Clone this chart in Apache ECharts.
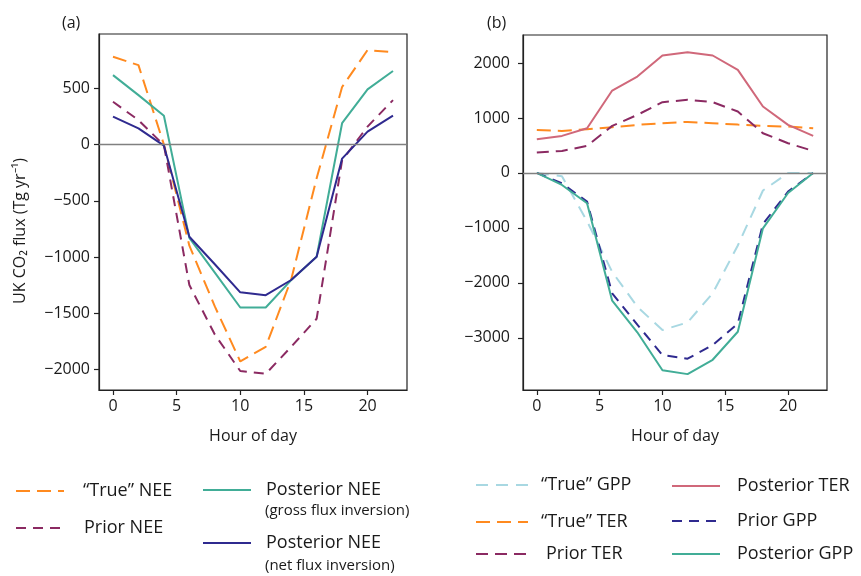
<!DOCTYPE html>
<html>
<head>
<meta charset="utf-8">
<script src="https://cdn.jsdelivr.net/npm/echarts@6/dist/echarts.min.js"></script>
<style>
html,body{margin:0;padding:0;background:#fff;}
#c{width:861px;height:576px;}
</style>
</head>
<body>
<div id="c"></div>
<script>
// ---- data ----
const hours = [0, 2, 4, 6, 8, 10, 12, 14, 16, 18, 20, 22];
const xTicks = [0, 5, 10, 15, 20];
const yTicksA = [-2000, -1500, -1000, -500, 0, 500];
const yTicksB = [-3000, -2000, -1000, 0, 1000, 2000];

// panel (a) NEE
const trueNEE   = [781, 707, 0, -900, -1440, -1930, -1800, -1200, -300, 512, 841, 822];
const priorNEE  = [381, 218, -5, -1250, -1690, -2015, -2040, -1800, -1550, -140, 160, 396];
const postNEEg  = [618, 440, 256, -830, -1140, -1450, -1450, -1206, -998, 190, 491, 655];
const postNEEn  = [248, 144, -10, -820, -1065, -1315, -1340, -1205, -998, -125, 115, 257];

// panel (b) GPP / TER
const trueGPP   = [0, -60, -880, -1800, -2435, -2860, -2720, -2190, -1320, -320, 0, 0];
const trueTER   = [783, 765, 795, 832, 874, 905, 929, 905, 880, 856, 844, 814];
const priorTER  = [370, 401, 492, 856, 1056, 1288, 1330, 1288, 1117, 723, 541, 401];
const postTER   = [613, 674, 814, 1499, 1754, 2137, 2198, 2137, 1876, 1208, 874, 674];
const priorGPP  = [0, -190, -522, -2190, -2760, -3315, -3380, -3133, -2740, -930, -340, 0];
const postGPP   = [0, -219, -552, -2325, -2900, -3590, -3661, -3400, -2890, -1008, -365, 0];

// ---- styling ----
const FONT = 'Open Sans';
const C = {
  orange: '#ff8a1f',
  maroon: '#8b2a62',
  teal: '#41ad97',
  navy: '#2f2a8f',
  pink: '#d0687a',
  lightblue: '#a8d8e2'
};
const pair = (ys) => hours.map((h, i) => [h, ys[i]]);
const minus = (v) => String(v).replace('-', '\u2212');

function line(name, ys, color, dash, gi, extra) {
  return Object.assign({
    type: 'line', name: name, data: pair(ys),
    xAxisIndex: gi, yAxisIndex: gi,
    symbol: 'none', showSymbol: false, smooth: false,
    lineStyle: { color: color, width: 2, type: dash || 'solid' },
    itemStyle: { color: color },
    emphasis: { disabled: true },
    z: 3
  }, extra || {});
}
const zeroLine = {
  silent: true, symbol: 'none', label: { show: false },
  lineStyle: { color: '#808080', width: 1.3, type: 'solid' },
  emphasis: { disabled: true },
  data: [{ yAxis: 0 }]
};

function xAxis(gi) {
  return {
    type: 'value', gridIndex: gi, min: -1.1, max: 23.1,
    name: 'Hour of day', nameLocation: 'middle', nameGap: 38,
    nameTextStyle: { fontFamily: FONT, fontSize: 16, color: '#1a1a1a' },
    axisLine: { show: true, onZero: false, lineStyle: { color: '#222', width: 1.2 } },
    axisTick: { show: true, inside: false, length: 5, customValues: xTicks, lineStyle: { color: '#222', width: 1.2 } },
    axisLabel: { customValues: xTicks, margin: 8, fontFamily: FONT, fontSize: 16, color: '#1a1a1a' },
    splitLine: { show: false }
  };
}
function yAxis(gi, min, max, ticks, margin) {
  return {
    type: 'value', gridIndex: gi, min: min, max: max,
    axisLine: { show: true, onZero: false, lineStyle: { color: '#222', width: 1.2 } },
    axisTick: { show: true, inside: false, length: 5, customValues: ticks, lineStyle: { color: '#222', width: 1.2 } },
    axisLabel: { customValues: ticks, margin: margin, fontFamily: FONT, fontSize: 16, color: '#1a1a1a', formatter: minus },
    splitLine: { show: false }
  };
}

function leg(name, left, cy, w, spacer) {
  return {
    data: [name], left: left, top: cy - 10, orient: 'horizontal',
    itemWidth: w, itemHeight: 20, padding: 0, selectedMode: false,
    itemStyle: { opacity: 0, borderWidth: 0 },
    formatter: (n) => '{s|}{t|' + n.replace(/ \(.*\)$/, '') + '}',
    textStyle: {
      rich: {
        s: { width: spacer, height: 20 },
        t: { fontFamily: FONT, fontSize: 18, color: '#1a1a1a', lineHeight: 20, height: 20 }
      }
    }
  };
}

const option = {
  animation: false,
  backgroundColor: '#ffffff',
  textStyle: { fontFamily: FONT },
  grid: [
    { left: 99, top: 34, width: 308, height: 356, show: true, borderColor: '#222', borderWidth: 1.2, backgroundColor: 'transparent' },
    { left: 523, top: 35, width: 304, height: 355, show: true, borderColor: '#222', borderWidth: 1.2, backgroundColor: 'transparent' }
  ],
  xAxis: [xAxis(0), xAxis(1)],
  yAxis: [yAxis(0, -2184, 984, yTicksA, 9), yAxis(1, -3950, 2510, yTicksB, 13)],
  legend: [
    leg('\u201CTrue\u201D NEE', 15, 491, 48, 14),
    leg('Prior NEE', 15, 528, 48, 15),
    leg('Posterior NEE (gross flux inversion)', 202, 490, 48, 10),
    leg('Posterior NEE (net flux inversion)', 202, 543, 48, 10),
    leg('\u201CTrue\u201D GPP', 475, 485, 52, 8),
    leg('\u201CTrue\u201D TER', 475, 522, 52, 8),
    leg('Prior TER', 475, 554, 52, 13),
    leg('Posterior TER', 671, 486, 48, 12),
    leg('Prior GPP', 671, 521, 48, 12),
    leg('Posterior GPP', 671, 554, 48, 12)
  ],
  graphic: [
    { type: 'text', left: 62, top: 15, style: { text: '(a)', font: '16px "Open Sans"', fill: '#1a1a1a' } },
    { type: 'text', left: 487, top: 15, style: { text: '(b)', font: '16px "Open Sans"', fill: '#1a1a1a' } },
    { type: 'text', x: 20, y: 231, rotation: Math.PI / 2,
      style: { text: 'UK CO\u2082 flux (Tg yr\u207B\u00B9)', font: '16px "Open Sans"', fill: '#1a1a1a', align: 'center', verticalAlign: 'middle' } },
    { type: 'text', left: 265, top: 503, style: { text: '(gross flux inversion)', font: '15px "Open Sans"', fill: '#1a1a1a' } },
    { type: 'text', left: 265, top: 558, style: { text: '(net flux inversion)', font: '15px "Open Sans"', fill: '#1a1a1a' } }
  ],
  series: [
    line('\u201CTrue\u201D NEE', trueNEE, C.orange, [14, 7], 0, { markLine: zeroLine, z: 2 }),
    line('Prior NEE', priorNEE, C.maroon, [10, 7], 0),
    line('Posterior NEE (gross flux inversion)', postNEEg, C.teal, 'solid', 0),
    line('Posterior NEE (net flux inversion)', postNEEn, C.navy, 'solid', 0),

    line('\u201CTrue\u201D GPP', trueGPP, C.lightblue, [12, 8], 1, { markLine: zeroLine, z: 2 }),
    line('\u201CTrue\u201D TER', trueTER, C.orange, [14, 7], 1),
    line('Prior TER', priorTER, C.maroon, [12, 7], 1),
    line('Posterior TER', postTER, C.pink, 'solid', 1),
    line('Prior GPP', priorGPP, C.navy, [10, 7], 1),
    line('Posterior GPP', postGPP, C.teal, 'solid', 1)
  ]
};

const chart = echarts.init(document.getElementById('c'), null, { renderer: 'canvas' });
chart.setOption(option);
</script>
</body>
</html>
